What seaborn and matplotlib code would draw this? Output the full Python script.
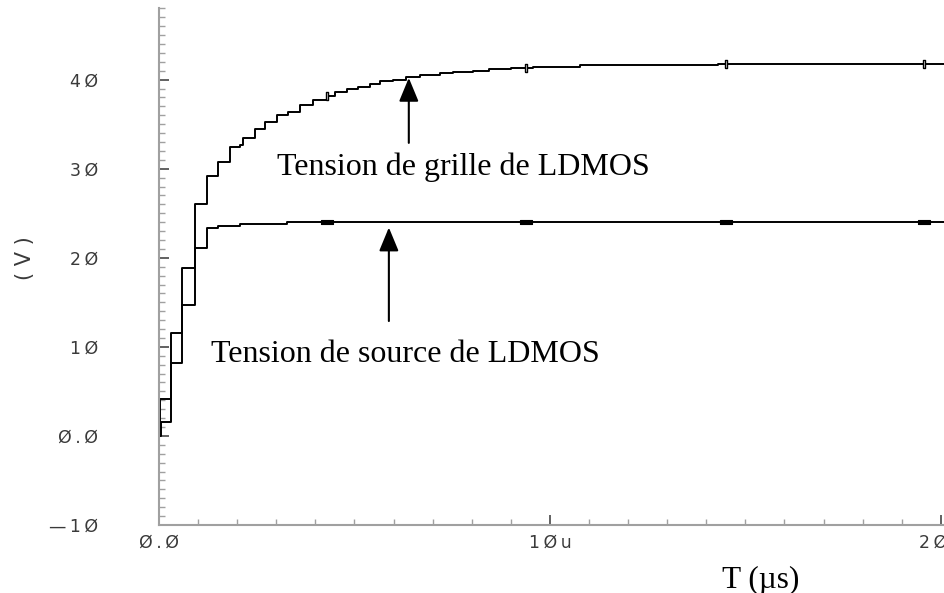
import numpy as np
import pandas as pd
import matplotlib
matplotlib.use("Agg")
import matplotlib.pyplot as plt
import seaborn as sns
from matplotlib.ticker import FixedLocator, FixedFormatter, MultipleLocator

# Gate (grille) voltage staircase: time in µs, voltage in V
t_grille = [0.00, 0.03, 0.31, 0.60, 0.93, 1.22, 1.50, 1.81, 2.07, 2.16, 2.46,
            2.71, 3.01, 3.30, 3.61, 3.94, 4.30, 4.50, 4.80, 5.09, 5.40, 5.65,
            5.99, 6.33, 6.68, 7.19, 7.52, 8.03, 8.45, 9.00, 9.38, 9.57, 10.77,
            12.23, 14.30, 14.50, 19.58, 20.10]
v_grille = [0.0, 4.2, 11.5, 18.8, 26.0, 29.2, 30.8, 32.4, 32.7, 33.4, 34.5,
            35.3, 36.0, 36.4, 37.1, 37.7, 38.2, 38.6, 38.9, 39.2, 39.5, 39.8,
            40.0, 40.3, 40.5, 40.7, 40.9, 41.0, 41.2, 41.3, 41.3, 41.4, 41.6,
            41.7, 41.8, 41.8, 41.8, 41.8]

# Source voltage staircase
t_source = [0.00, 0.05, 0.31, 0.60, 0.93, 1.22, 1.50, 2.07, 3.27, 4.30, 9.38,
            14.50, 19.58, 20.10]
v_source = [0.0, 1.6, 8.2, 14.7, 21.1, 23.3, 23.6, 23.8, 24.0, 24.0, 24.0,
            24.0, 24.0, 24.0]

# Simulator marker instants (µs)
marker_t = [4.30, 9.38, 14.50, 19.58]

x_ticks = [0, 10, 20]
x_tick_labels = ["Ø.Ø", "1Øu", "2Øu"]
y_ticks = [-10, 0, 10, 20, 30, 40]
y_tick_labels = ["—1Ø", "Ø.Ø", "1Ø", "2Ø", "3Ø", "4Ø"]

sns.set_theme(style="white")
plt.rcParams["font.family"] = ["DejaVu Sans"]

W, H = 944, 593
fig = plt.figure(figsize=(W / 100, H / 100), dpi=100)
ax = fig.add_axes([159 / W, 68 / H, 1 - 159 / W, (585.5 - 68) / H])

df_g = pd.DataFrame({"t": t_grille, "v": v_grille})
df_s = pd.DataFrame({"t": t_source, "v": v_source})
sns.lineplot(data=df_g, x="t", y="v", drawstyle="steps-post", color="black",
             lw=1.4, ax=ax, errorbar=None)
sns.lineplot(data=df_s, x="t", y="v", drawstyle="steps-post", color="black",
             lw=1.4, ax=ax, errorbar=None)


def step_value(ts, vs, t):
    idx = np.searchsorted(ts, t, side="right") - 1
    return np.asarray(vs)[idx]


tall_rect = [(-0.35, -1), (0.35, -1), (0.35, 1), (-0.35, 1), (-0.35, -1)]
flat_rect = [(-1, -0.3), (1, -0.3), (1, 0.3), (-1, 0.3), (-1, -0.3)]
ax.plot(marker_t, step_value(t_grille, v_grille, marker_t), ls="none",
        marker=tall_rect, ms=6, mfc="white", mec="black", mew=1.0)
ax.plot(marker_t, step_value(t_source, v_source, marker_t), ls="none",
        marker=flat_rect, ms=8, mfc="black", mec="black", mew=0.8)

ax.set_xlim(0, 20.08)
ax.set_ylim(-10, 48.1)

for side in ("top", "right"):
    ax.spines[side].set_visible(False)
for side in ("left", "bottom"):
    ax.spines[side].set_color("#a0a0a0")
    ax.spines[side].set_linewidth(1.5)


def spaced(s):
    # widen the simulator-style labels a little
    return "\u2009".join(s)


ax.xaxis.set_major_locator(FixedLocator(x_ticks))
ax.xaxis.set_major_formatter(FixedFormatter([spaced(s) for s in x_tick_labels]))
ax.yaxis.set_major_locator(FixedLocator(y_ticks))
ax.yaxis.set_major_formatter(FixedFormatter([spaced(s) for s in y_tick_labels]))
ax.xaxis.set_minor_locator(MultipleLocator(1))
ax.yaxis.set_minor_locator(MultipleLocator(1))

ax.tick_params(which="major", direction="in", length=7, width=1.3,
               color="#555555", labelsize=12.5, labelcolor="#3a3a3a")
ax.tick_params(which="minor", direction="in", length=4, width=1.0,
               color="#a0a0a0")
ax.tick_params(axis="x", which="major", bottom=True, pad=6)
ax.tick_params(axis="y", which="major", left=True, pad=44)
ax.tick_params(axis="x", which="minor", bottom=True)
ax.tick_params(axis="y", which="minor", left=True)
ax.set_xlabel("")
ax.set_ylabel("")
ax.grid(False)

serif = ["Liberation Serif", "DejaVu Serif"]

# Arrows pointing at the two curves
g_x = 6.39
ax.annotate("", xy=(g_x, step_value(t_grille, v_grille, g_x) - 0.1),
            xytext=(g_x, 32.9),
            arrowprops=dict(arrowstyle="-|>,head_length=1.45,head_width=0.6",
                            mutation_scale=10, lw=1.5, color="black",
                            shrinkA=0, shrinkB=0))
ax.annotate("", xy=(5.88, 23.4), xytext=(5.88, 12.9),
            arrowprops=dict(arrowstyle="-|>,head_length=1.45,head_width=0.6",
                            mutation_scale=10, lw=1.5, color="black",
                            shrinkA=0, shrinkB=0))

ax.text(3.02, 30.2, "Tension de grille de LDMOS", family=serif, fontsize=23,
        color="black", ha="left", va="center")
ax.text(1.33, 9.1, "Tension de source de LDMOS", family=serif, fontsize=23,
        color="black", ha="left", va="center")

fig.text(761 / W, 1 - 580 / H, "T (µs)", family=serif, fontsize=22.5,
         color="black", ha="center", va="center")
fig.text(25 / W, 1 - 258 / H, "( V )", fontsize=15, color="#3a3a3a",
         rotation=90, ha="center", va="center")

fig.savefig("out.png", dpi=100)
